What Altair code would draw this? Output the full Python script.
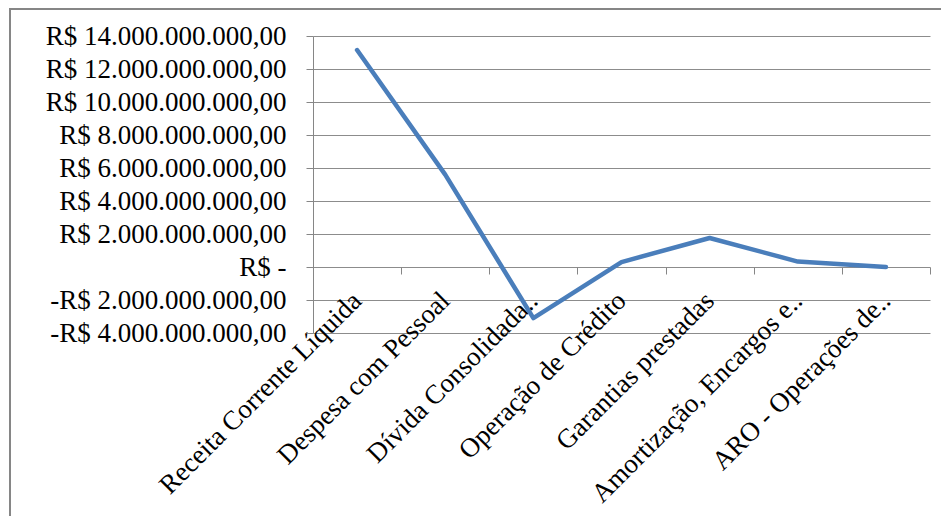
import altair as alt
import pandas as pd

categories = [
    "Receita Corrente Líquida",
    "Despesa com Pessoal",
    "Dívida Consolidada..",
    "Operação de Crédito",
    "Garantias prestadas",
    "Amortização, Encargos e..",
    "ARO - Operações de..",
]
values = [13.15e9, 5.6e9, -3.1e9, 0.3e9, 1.76e9, 0.33e9, 0.0]
y_ticks = [-4e9, -2e9, 0, 2e9, 4e9, 6e9, 8e9, 10e9, 12e9, 14e9]

df = pd.DataFrame({"categoria": categories, "valor": values})

FONT = "Liberation Serif"
GRAY = "#868686"
NB = "\u00a0"
label_expr = (
    "datum.value == 0 ? 'R$ -" + NB * 3 + "' : "
    "(datum.value < 0 ? '-' : '') + 'R$ ' + format(abs(datum.value) / 1e9, 'd') + '.000.000.000,00'"
)

x_scale = alt.Scale(type="band", domain=categories, paddingInner=0, paddingOuter=0)
y_scale = alt.Scale(domain=[-4e9, 14e9], nice=False, zero=False)

y_axis = alt.Axis(
    title=None,
    values=y_ticks,
    labelExpr=label_expr,
    labelFont=FONT,
    labelFontSize=27,
    labelColor="black",
    labelPadding=20,
    labelLimit=500,
    labelOverlap=False,
    labelFlush=False,
    tickSize=7,
    tickColor=GRAY,
    domainColor=GRAY,
    grid=True,
    gridColor="#8c8c8c",
    gridWidth=1,
)

line = alt.Chart(df).mark_line(
    color="#4a7ebb", strokeWidth=4.5, strokeCap="round", strokeJoin="round"
).encode(
    x=alt.X(
        "categoria:N",
        scale=x_scale,
        bandPosition=0.5,
        axis=alt.Axis(
            title=None,
            orient="bottom",
            domain=False,
            ticks=False,
            grid=False,
            labelAngle=-45,
            labelAlign="right",
            labelBaseline="alphabetic",
            labelFont=FONT,
            labelFontSize=27,
            labelColor="black",
            labelPadding=-31,
            labelOffset=6,
            labelLimit=500,
            labelOverlap=False,
        ),
    ),
    y=alt.Y("valor:Q", scale=y_scale, axis=y_axis),
)

ticks = alt.Chart(df).mark_point(opacity=0).encode(
    x=alt.X(
        "categoria:N",
        scale=x_scale,
        axis=alt.Axis(
            title=None,
            orient="bottom",
            offset=-66,
            labels=False,
            domain=False,
            grid=False,
            ticks=True,
            tickBand="extent",
            tickSize=7,
            tickColor=GRAY,
            tickWidth=1,
        ),
    ),
    y=alt.Y("valor:Q", scale=y_scale, axis=y_axis),
)

border = alt.Chart(alt.Data(values=[{}])).mark_rect(
    fillOpacity=0, stroke=GRAY, strokeWidth=2
).encode(
    x=alt.value(-303),
    x2=alt.value(700),
    y=alt.value(-27),
    y2=alt.value(600),
)

chart = (
    alt.layer(border, line, ticks)
    .resolve_axis(x="independent")
    .properties(
        width=617,
        height=297,
        autosize=alt.AutoSizeParams(type="none"),
        padding={"left": 305, "top": 28, "right": 11, "bottom": 183},
    )
    .configure_view(strokeWidth=0)
    .configure_axisY(labelOverlap=False)
)

chart.save("out.html", embed_options={"renderer": "svg", "actions": False})
